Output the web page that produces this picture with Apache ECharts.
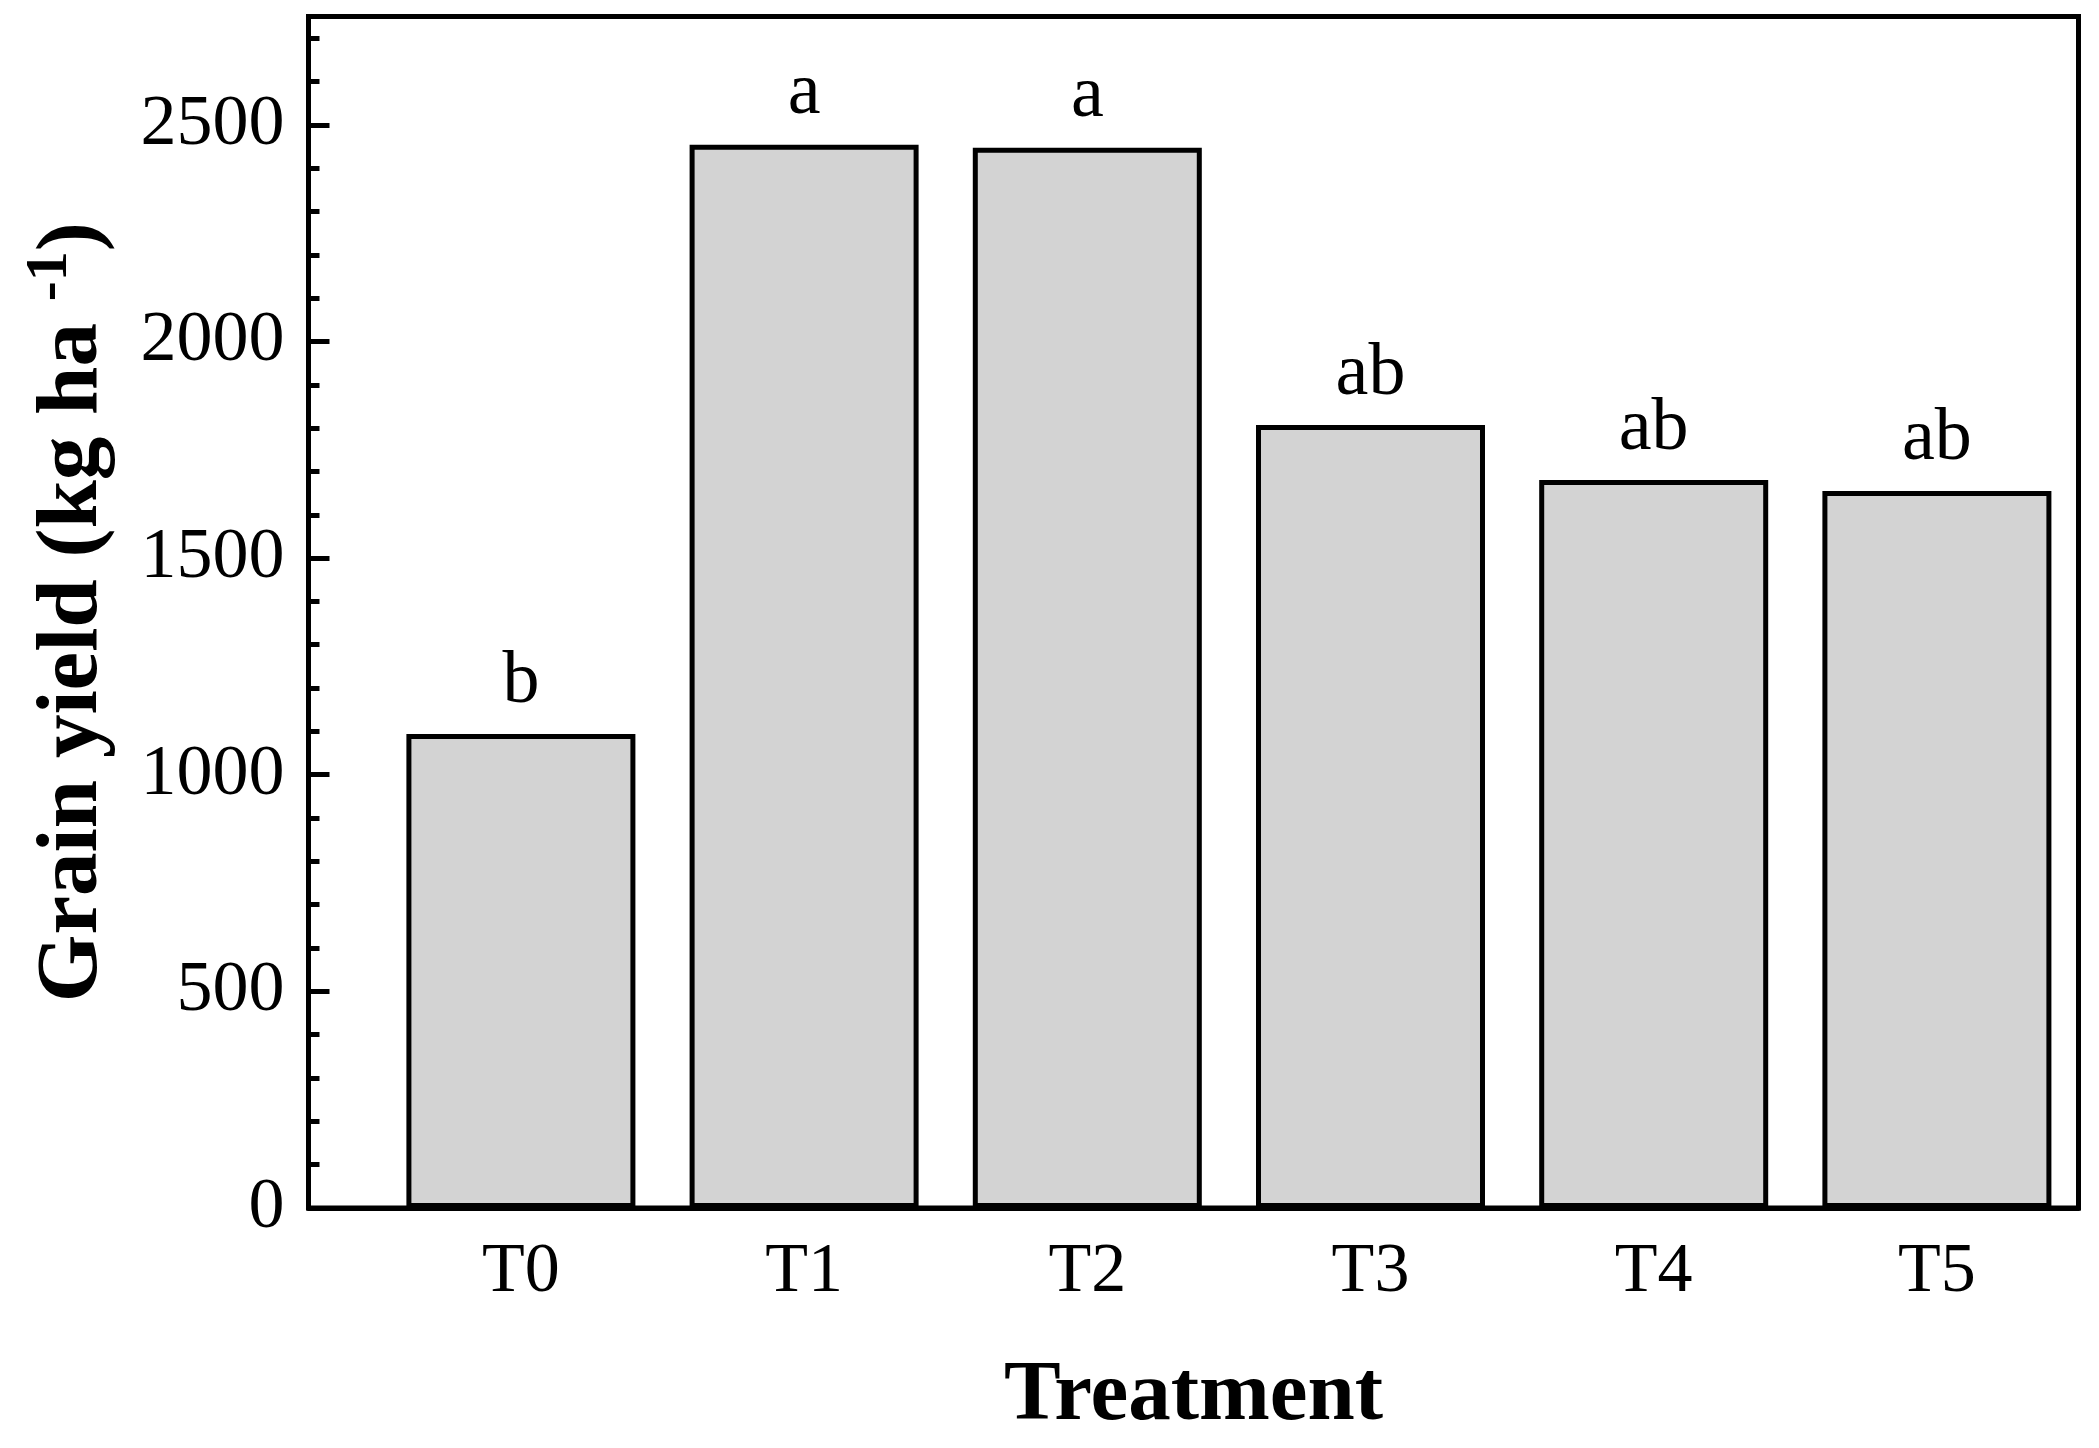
<!DOCTYPE html>
<html>
<head>
<meta charset="utf-8">
<script src="https://cdn.jsdelivr.net/npm/echarts@6/dist/echarts.min.js"></script>
<style>
html,body{margin:0;padding:0;background:#fff;}
#chart{width:2099px;height:1448px;}
</style>
</head>
<body>
<div id="chart"></div>
<script>
// ---- data ----
const categories = ['T0', 'T1', 'T2', 'T3', 'T4', 'T5'];
const grainYield = [1094, 2454, 2447, 1807, 1680, 1655];
const letters = ['b', 'a', 'a', 'ab', 'ab', 'ab'];
const yMajorTicks = [0, 500, 1000, 1500, 2000, 2500];
const yMinorTicks = [100, 200, 300, 400, 600, 700, 800, 900, 1100, 1200, 1300, 1400,
  1600, 1700, 1800, 1900, 2100, 2200, 2300, 2400, 2600, 2700];
const xPositions = [0, 1, 2, 3, 4, 5];

const FONT = "'Liberation Serif', 'Times New Roman', serif";

const chart = echarts.init(document.getElementById('chart'), null, {renderer: 'canvas'});

const option = {
  animation: false,
  backgroundColor: '#fff',
  grid: {
    left: 308.5, right: 20.5, top: 16.5, bottom: 240,
    show: true, borderColor: '#000', borderWidth: 5, backgroundColor: 'transparent'
  },
  xAxis: {
    type: 'value',
    min: -0.75,
    max: 5.5,
    name: 'Treatment',
    nameLocation: 'middle',
    nameGap: 147,
    nameTextStyle: {fontFamily: FONT, fontWeight: 'bold', fontSize: 85, color: '#000'},
    axisLine: {show: true, onZero: false, lineStyle: {color: '#000', width: 5}},
    axisTick: {show: false},
    splitLine: {show: false},
    axisLabel: {
      customValues: xPositions,
      formatter: v => categories[Math.round(v)],
      fontFamily: FONT, fontSize: 70, color: '#000', margin: 30
    }
  },
  yAxis: [
    {
      type: 'value',
      min: 0,
      max: 2750,
      position: 'left',
      name: '{t|Grain yield (kg ha }{s|-1}{t|)}',
      nameLocation: 'middle',
      nameRotate: 90,
      nameGap: 188,
      nameTextStyle: {
        fontFamily: FONT, fontWeight: 'bold', fontSize: 87, color: '#000',
        rich: {
          t: {fontFamily: FONT, fontWeight: 'bold', fontSize: 87, color: '#000', lineHeight: 94},
          s: {fontFamily: FONT, fontWeight: 'bold', fontSize: 60, color: '#000', verticalAlign: 'bottom', padding: [0, 0, 40, 0], lineHeight: 54}
        }
      },
      axisLine: {show: true, onZero: false, lineStyle: {color: '#000', width: 5}},
      axisTick: {show: true, inside: true, length: 21, customValues: yMajorTicks, lineStyle: {color: '#000', width: 5}},
      axisLabel: {customValues: yMajorTicks, formatter: v => String(v), fontFamily: FONT, fontSize: 72, color: '#000', margin: 24},
      splitLine: {show: false}
    },
    {
      type: 'value',
      min: 0,
      max: 2750,
      position: 'left',
      axisLine: {show: false, onZero: false},
      axisTick: {show: true, inside: true, length: 11, customValues: yMinorTicks, lineStyle: {color: '#000', width: 5}},
      axisLabel: {show: false},
      splitLine: {show: false}
    }
  ],
  series: [{
    type: 'bar',
    xAxisIndex: 0,
    yAxisIndex: 0,
    barWidth: 229,
    data: xPositions.map((x, i) => [x, grainYield[i]]),
    itemStyle: {color: '#d3d3d3', borderColor: '#000', borderWidth: 5},
    label: {
      show: true,
      position: 'top',
      distance: 14,
      formatter: p => letters[p.dataIndex],
      fontFamily: FONT, fontSize: 74, color: '#000'
    }
  }]
};
chart.setOption(option);
</script>
</body>
</html>
